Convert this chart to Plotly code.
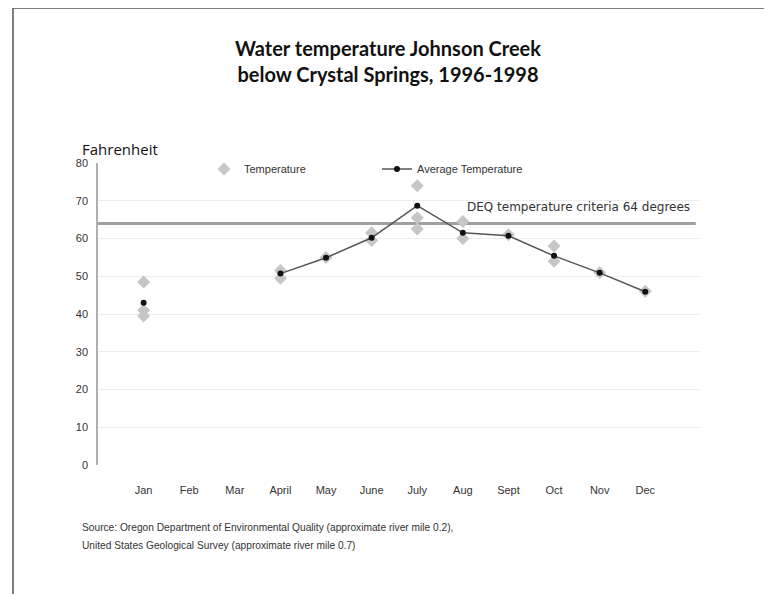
import plotly.graph_objects as go

# ---- data ----
months = ["Jan", "Feb", "Mar", "April", "May", "June", "July", "Aug", "Sept", "Oct", "Nov", "Dec"]
month_pos = [1, 2, 3, 4, 5, 6, 7, 8, 9, 10, 11, 12]

avg_values = [43.0, None, None, 50.7, 54.9, 60.2, 68.7, 61.5, 60.7, 55.4, 50.9, 45.9]

temp_months = ["Jan", "Jan", "Jan", "April", "April", "May", "June", "June",
               "July", "July", "July", "Aug", "Aug", "Sept", "Oct", "Oct", "Nov", "Dec"]
temp_values = [48.5, 41.0, 39.5, 51.5, 49.5, 55.0, 61.5, 59.5,
               74.0, 65.5, 62.5, 64.5, 60.0, 61.0, 58.0, 54.0, 51.0, 46.0]

criteria_value = 64
criteria_label = "DEQ temperature criteria 64 degrees"
y_ticks = [0, 10, 20, 30, 40, 50, 60, 70, 80]

title_text = "Water temperature Johnson Creek<br>below Crystal Springs, 1996-1998"
y_title = "Fahrenheit"
source_line1 = "Source: Oregon Department of Environmental Quality (approximate river mile 0.2),"
source_line2 = "United States Geological Survey (approximate river mile 0.7)"

pos_of = dict(zip(months, month_pos))
temp_x = [pos_of[m] for m in temp_months]

# page body adds an 8px offset; layout is expressed in screen pixels minus that offset
OFF = 8
W, H = 772, 594
L, T = 98 - OFF, 163 - OFF
pw, ph = 602, 302
R, B = W - L - pw, H - T - ph


def px_x(p):
    return (p - OFF - L) / pw


def px_y(p):
    return (H - B - (p - OFF)) / ph


fig = go.Figure()

fig.add_trace(go.Scatter(
    x=temp_x, y=temp_values, mode="markers", name="Temperature",
    marker=dict(symbol="diamond", size=10, color="#c6c6c6"),
))
fig.add_trace(go.Scatter(
    x=month_pos, y=avg_values, mode="lines+markers", name="Average Temperature",
    line=dict(color="#555555", width=1.5), connectgaps=False,
    marker=dict(symbol="circle", size=6, color="#111111"),
))

# DEQ criteria line
fig.add_shape(type="line", xref="paper", yref="y", x0=0, x1=0.993,
              y0=criteria_value, y1=criteria_value,
              line=dict(color="#a0a0a0", width=3), layer="below")

fig.add_annotation(xref="x", yref="y", x=13.02, y=criteria_value, yshift=16,
                   text=criteria_label, showarrow=False, xanchor="right",
                   font=dict(family="DejaVu Sans", size=12, color="#333333"))

fig.add_annotation(xref="paper", yref="paper", x=px_x(80), y=px_y(149),
                   text=y_title, showarrow=False, xanchor="left", yanchor="middle",
                   font=dict(family="Open Sans", size=15, color="#111111"))

fig.add_annotation(xref="paper", yref="paper", x=px_x(80), y=px_y(527),
                   text=source_line1, showarrow=False, xanchor="left", yanchor="middle",
                   font=dict(family="Liberation Sans", size=10.2, color="#333333"))
fig.add_annotation(xref="paper", yref="paper", x=px_x(80), y=px_y(545),
                   text=source_line2, showarrow=False, xanchor="left", yanchor="middle",
                   font=dict(family="Liberation Sans", size=10.2, color="#333333"))

# frame (top and left border)
fig.add_shape(type="line", xref="paper", yref="paper",
              x0=px_x(13), x1=px_x(790), y0=px_y(8), y1=px_y(8),
              line=dict(color="#555555", width=1.5))
fig.add_shape(type="line", xref="paper", yref="paper",
              x0=px_x(13), x1=px_x(13), y0=px_y(8), y1=px_y(610),
              line=dict(color="#555555", width=1.5))

fig.update_layout(
    width=W, height=H,
    margin=dict(l=L, r=R, t=T, b=B),
    paper_bgcolor="white", plot_bgcolor="white",
    title=dict(text=title_text, x=(388 - OFF) / W, xanchor="center",
               y=1 - (56 - OFF) / H, yanchor="middle",
               font=dict(family="Lato", size=20, color="#111111", weight="bold")),
    showlegend=True,
    legend=dict(orientation="h", x=px_x(204), y=px_y(169), xanchor="left", yanchor="middle",
                font=dict(family="Liberation Sans", size=11, color="#333333"),
                entrywidth=128, entrywidthmode="pixels", bgcolor="rgba(0,0,0,0)"),
    xaxis=dict(range=[0, 13.2], tickvals=month_pos, ticktext=months,
               showgrid=False, zeroline=False, showline=False, ticks="",
               ticklabelstandoff=17,
               tickfont=dict(family="Liberation Sans", size=11, color="#333333")),
    yaxis=dict(range=[0, 80], tickvals=y_ticks, showgrid=True, gridcolor="#ededed",
               zeroline=False, showline=True, linecolor="#b0b0b0", linewidth=1.5,
               ticks="", ticklabelstandoff=6,
               tickfont=dict(family="Liberation Sans", size=11, color="#333333")),
)

fig.write_html("out.html")
